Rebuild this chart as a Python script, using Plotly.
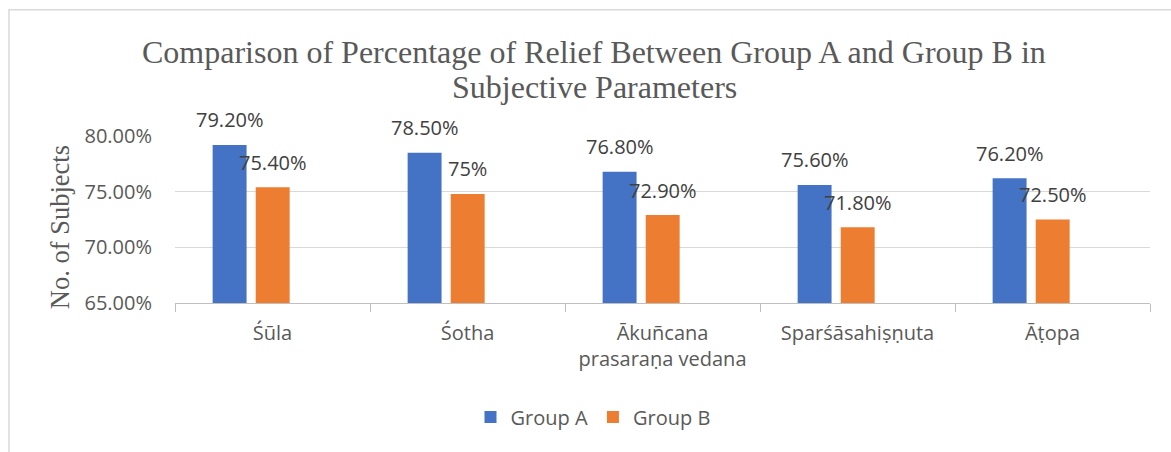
import plotly.graph_objects as go

categories = ["Śūla", "Śotha", "Ākuñcana<br>prasaraṇa vedana", "Sparśāsahiṣṇuta", "Āṭopa"]
group_a = [79.2, 78.5, 76.8, 75.6, 76.2]
group_b = [75.4, 74.8, 72.9, 71.8, 72.5]
labels_a = ["79.20%", "78.50%", "76.80%", "75.60%", "76.20%"]
labels_b = ["75.40%", "75%", "72.90%", "71.80%", "72.50%"]
y_ticks = [65, 70, 75, 80]
y_tick_text = ["65.00%", "70.00%", "75.00%", "80.00%"]
title_lines = ["Comparison of Percentage of Relief Between Group A and Group B in",
               "Subjective Parameters"]

FONT = "Open Sans"
SERIF = "Liberation Serif"
GRAY = "#595959"
BLUE = "#4472C4"
ORANGE = "#ED7D31"
FS = 20

W_BAR = 0.174
OFF_A = -0.307
OFF_B = -0.086

# plot area in pixels
PL, PR, PT, PB = 175, 1150, 136, 302.7
PW, PH = PR - PL, PB - PT


def px(x):
    return (x - PL) / PW


def py(y):
    return (PB - y) / PH


fig = go.Figure()
fig.add_trace(go.Bar(name="Group A", x=categories, y=group_a, marker_color=BLUE,
                     width=W_BAR, offset=OFF_A, marker_line_width=0))
fig.add_trace(go.Bar(name="Group B", x=categories, y=group_b, marker_color=ORANGE,
                     width=W_BAR, offset=OFF_B, marker_line_width=0))

annotations = []
for i, (va, vb, la, lb) in enumerate(zip(group_a, group_b, labels_a, labels_b)):
    annotations.append(dict(x=i + OFF_A + W_BAR / 2, y=va, xref="x", yref="y", text=la,
                            showarrow=False, yanchor="middle", yshift=25,
                            font=dict(family=FONT, size=FS, color="#404040")))
    annotations.append(dict(x=i + OFF_B + W_BAR / 2, y=vb, xref="x", yref="y", text=lb,
                            showarrow=False, yanchor="middle", yshift=25,
                            font=dict(family=FONT, size=FS, color="#404040")))

annotations.append(dict(x=px(60), y=py(227), xref="paper", yref="paper",
                        text="No. of Subjects", textangle=-90, showarrow=False,
                        xanchor="center", yanchor="middle",
                        font=dict(family=SERIF, size=26.5, color=GRAY)))
for line, yc in zip(title_lines, [52, 87]):
    annotations.append(dict(x=px(594), y=py(yc), xref="paper", yref="paper", text=line,
                            showarrow=False, xanchor="center", yanchor="middle",
                            font=dict(family=SERIF, size=32, color=GRAY)))

fig.update_layout(
    width=1171, height=452,
    margin=dict(l=PL, r=1171 - PR, t=PT, b=452 - PB, pad=0, autoexpand=False),
    paper_bgcolor="white", plot_bgcolor="white",
    barmode="group",
    showlegend=True,
    legend=dict(orientation="h", xref="container", yref="container", x=593 / 1171, y=1 - 417 / 452,
                xanchor="center", yanchor="middle",
                font=dict(family=FONT, size=FS, color=GRAY), itemwidth=30),
    annotations=annotations,
    xaxis=dict(showgrid=False, showline=True, linecolor="#BFBFBF", linewidth=1,
               ticks="outside", tickson="boundaries", ticklen=8, tickcolor="#BFBFBF",
               automargin=False, ticklabelstandoff=12,
               tickfont=dict(family=FONT, size=FS, color=GRAY)),
    yaxis=dict(range=[65, 80], tickvals=y_ticks, ticktext=y_tick_text, showgrid=True,
               gridcolor="#D9D9D9", gridwidth=1, zeroline=False, showline=False, ticks="",
               ticklabelstandoff=22, automargin=False,
               tickfont=dict(family=FONT, size=FS, color=GRAY)),
    shapes=[dict(type="rect", xref="paper", yref="paper",
                 x0=px(9), x1=px(1185), y0=py(470), y1=py(10),
                 line=dict(color="#D9D9D9", width=1.5), fillcolor="rgba(0,0,0,0)", layer="below")],
)

fig.write_html("out.html", config={"displayModeBar": False},
               post_script="document.body.style.margin='0';")
